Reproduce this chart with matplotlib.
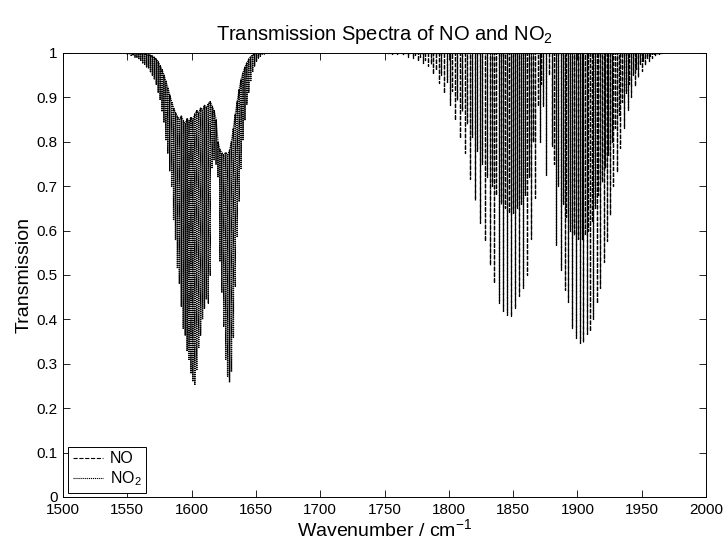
import matplotlib
matplotlib.use("Agg")
import matplotlib.pyplot as plt
import numpy as np

plt.rcParams['font.family'] = ['Liberation Sans', 'DejaVu Sans']
plt.rcParams['mathtext.default'] = 'regular'
plt.rcParams['lines.scale_dashes'] = False

# ---------------- data ----------------
# NO2 band: line centres (cm-1), transmission at line centre, local maximum around the line
no2_wn = [1550.0, 1551.5, 1553.0, 1554.5, 1556.0, 1557.5, 1559.0, 1560.5, 1562.0, 1563.5,
          1565.0, 1566.5, 1568.0, 1569.5, 1571.0, 1572.5, 1574.0, 1575.5, 1577.0, 1578.5,
          1580.0, 1581.5, 1583.0, 1584.5, 1586.0, 1587.5, 1589.0, 1590.5, 1592.0, 1593.5,
          1595.0, 1596.5, 1598.0, 1599.5, 1601.0, 1602.5, 1604.0, 1605.5, 1607.0, 1608.5,
          1610.0, 1611.5, 1613.0, 1614.5, 1616.0, 1617.5, 1619.0, 1620.5, 1622.0, 1623.5,
          1625.0, 1626.5, 1628.0, 1629.5, 1631.0, 1632.5, 1634.0, 1635.5, 1637.0, 1638.5,
          1640.0, 1641.5, 1643.0, 1644.5, 1646.0, 1647.5, 1649.0, 1650.5, 1652.0, 1653.5,
          1655.0, 1656.5, 1658.0]
no2_min = [0.998, 0.997, 0.995, 0.994, 0.991, 0.989, 0.986, 0.982, 0.978, 0.975,
           0.969, 0.965, 0.958, 0.950, 0.942, 0.930, 0.912, 0.894, 0.868, 0.845,
           0.805, 0.775, 0.735, 0.700, 0.625, 0.580, 0.515, 0.480, 0.430, 0.380,
           0.365, 0.330, 0.310, 0.280, 0.262, 0.252, 0.285, 0.335, 0.365, 0.400,
           0.425, 0.445, 0.437, 0.500, 0.740, 0.760, 0.750, 0.720, 0.530, 0.460,
           0.385, 0.310, 0.272, 0.258, 0.282, 0.360, 0.475, 0.585, 0.665, 0.740,
           0.805, 0.850, 0.885, 0.912, 0.938, 0.957, 0.971, 0.982, 0.989, 0.993,
           0.996, 0.998, 0.999]
no2_top = [1.0, 1.0, 1.0, 1.0, 1.0, 1.0, 1.0, 0.999, 0.999, 0.998,
           0.997, 0.996, 0.995, 0.993, 0.990, 0.986, 0.980, 0.972, 0.962, 0.950,
           0.936, 0.922, 0.905, 0.890, 0.876, 0.865, 0.856, 0.850, 0.858, 0.848,
           0.840, 0.852, 0.845, 0.855, 0.850, 0.862, 0.870, 0.864, 0.876, 0.870,
           0.882, 0.876, 0.886, 0.890, 0.880, 0.870, 0.850, 0.800, 0.782, 0.775,
           0.770, 0.776, 0.770, 0.780, 0.800, 0.830, 0.862, 0.890, 0.918, 0.940,
           0.956, 0.968, 0.978, 0.986, 0.992, 0.996, 0.998, 1.0, 1.0, 1.0,
           1.0, 1.0, 1.0]

# NO band: strong lines (centre, transmission)
no_strong_wn = [1752.0, 1756.0, 1760.0, 1764.0, 1768.0, 1772.0, 1776.0, 1779.7, 1783.6, 1788.0,
                1792.4, 1796.3, 1800.9, 1804.8, 1808.7, 1812.6, 1816.5, 1820.4, 1824.3, 1827.9,
                1831.7, 1835.2, 1838.8, 1842.2, 1845.3, 1848.5, 1851.6, 1854.6, 1857.5, 1860.6,
                1863.9, 1867.2, 1870.6, 1873.4, 1875.3,
                1880.0, 1883.7, 1887.0, 1890.1, 1893.0, 1895.8, 1898.8, 1901.9, 1904.6, 1907.3,
                1909.9, 1912.5, 1915.1, 1917.7, 1920.3, 1922.9, 1925.4, 1928.0, 1930.8, 1933.5,
                1936.3, 1939.1, 1941.8, 1944.5, 1947.2, 1949.9, 1952.6, 1955.3, 1958.0, 1960.6,
                1963.2, 1965.8]
no_strong_T = [0.999, 0.998, 0.997, 0.995, 0.992, 0.988, 0.983, 0.977, 0.970, 0.953,
               0.932, 0.910, 0.884, 0.850, 0.809, 0.775, 0.716, 0.670, 0.617, 0.576,
               0.523, 0.482, 0.436, 0.418, 0.410, 0.407, 0.426, 0.452, 0.470, 0.500,
               0.580, 0.673, 0.800, 0.880, 0.726,
               0.790, 0.568, 0.512, 0.467, 0.440, 0.380, 0.358, 0.347, 0.350, 0.366,
               0.373, 0.400, 0.437, 0.470, 0.530, 0.576, 0.636, 0.700, 0.733, 0.786,
               0.830, 0.872, 0.900, 0.925, 0.945, 0.960, 0.972, 0.981, 0.988, 0.993,
               0.996, 0.998]
# NO band: weaker lines between the strong ones
no_weak_wn = [1774.0, 1777.8, 1781.6, 1785.8, 1790.2, 1794.3, 1798.6, 1802.8, 1806.7, 1810.6,
              1814.5, 1818.4, 1822.3, 1826.1, 1829.8, 1833.4, 1837.0, 1840.5, 1843.7, 1846.9,
              1850.0, 1853.1, 1856.0, 1859.0, 1862.2, 1865.5, 1869.0, 1872.0,
              1878.0, 1881.8, 1885.3, 1888.5, 1891.5, 1894.4, 1897.3, 1900.3, 1903.2, 1906.0,
              1908.6, 1911.2, 1913.8, 1916.4, 1919.0, 1921.6, 1924.1, 1926.7, 1929.4, 1932.1,
              1934.9, 1937.7, 1940.4, 1943.1, 1945.8, 1948.5, 1951.2, 1953.9, 1956.6, 1959.3,
              1961.9]
no_weak_T = [0.995, 0.990, 0.985, 0.975, 0.962, 0.950, 0.935, 0.915, 0.895, 0.870,
             0.840, 0.810, 0.780, 0.750, 0.720, 0.700, 0.680, 0.660, 0.650, 0.640,
             0.640, 0.650, 0.660, 0.680, 0.720, 0.800, 0.880, 0.930,
             0.950, 0.750, 0.700, 0.660, 0.630, 0.600, 0.590, 0.580, 0.580, 0.590,
             0.600, 0.620, 0.650, 0.680, 0.710, 0.740, 0.770, 0.800, 0.830, 0.860,
             0.890, 0.910, 0.930, 0.950, 0.965, 0.975, 0.983, 0.989, 0.993, 0.996,
             0.998]
no_baseline = 1.0

x_ticks = [1500, 1550, 1600, 1650, 1700, 1750, 1800, 1850, 1900, 1950, 2000]
y_ticks = [0, 0.1, 0.2, 0.3, 0.4, 0.5, 0.6, 0.7, 0.8, 0.9, 1]
y_ticklabels = ['0', '0.1', '0.2', '0.3', '0.4', '0.5', '0.6', '0.7', '0.8', '0.9', '1']


def spike_path(centres, lows, highs):
    xs, ys = [], []
    for c, lo, hi in zip(centres, lows, highs):
        xs += [c, c, c]
        ys += [hi, lo, hi]
    return xs, ys


# merge NO lines
no_wn = np.array(no_strong_wn + no_weak_wn)
no_T = np.array(no_strong_T + no_weak_T)
order = np.argsort(no_wn)
no_wn, no_T = no_wn[order], no_T[order]
no_x, no_y = spike_path(no_wn, no_T, [no_baseline] * len(no_wn))
no2_x, no2_y = spike_path(no2_wn, no2_min, no2_top)

# ---------------- figure ----------------
fig = plt.figure(figsize=(7.25, 5.45), dpi=100)
ax = fig.add_axes([63 / 725, 1 - 497 / 545, 643 / 725, 444 / 545])

l_no, = ax.plot(no_x, no_y, color='black', lw=0.9, linestyle=(0, (3.0, 1.2)), label='NO')
l_no2, = ax.plot(no2_x, no2_y, color='black', lw=1.0, linestyle=(0, (0.8, 0.6)), label='NO$_2$')

ax.set_xlim(1500, 2000)
ax.set_ylim(0, 1)
ax.set_xticks(x_ticks)
ax.set_yticks(y_ticks)
ax.set_yticklabels(y_ticklabels)
ax.tick_params(direction='in', top=True, right=True, length=5, width=0.6,
               labelsize=11, pad=4, colors='black')
for s in ax.spines.values():
    s.set_linewidth(0.7)
    s.set_color('black')

ax.set_title('Transmission Spectra of NO and NO$_2$', fontsize=14.5, pad=9)
ax.set_xlabel('Wavenumber / cm$^{-1}$', fontsize=14, labelpad=1)
ax.set_ylabel('Transmission', fontsize=14, labelpad=3)

leg = ax.legend(handles=[l_no, l_no2], loc='lower left',
                bbox_to_anchor=(5 / 643, 4 / 444), borderaxespad=0,
                fontsize=11.5, handlelength=1.9, handletextpad=0.4,
                fancybox=False, framealpha=1, edgecolor='black',
                borderpad=0.3, labelspacing=0.2)
leg.get_frame().set_linewidth(0.7)
for h in leg.get_lines():
    h.set_linewidth(0.8)

fig.savefig('out.png', dpi=100)
